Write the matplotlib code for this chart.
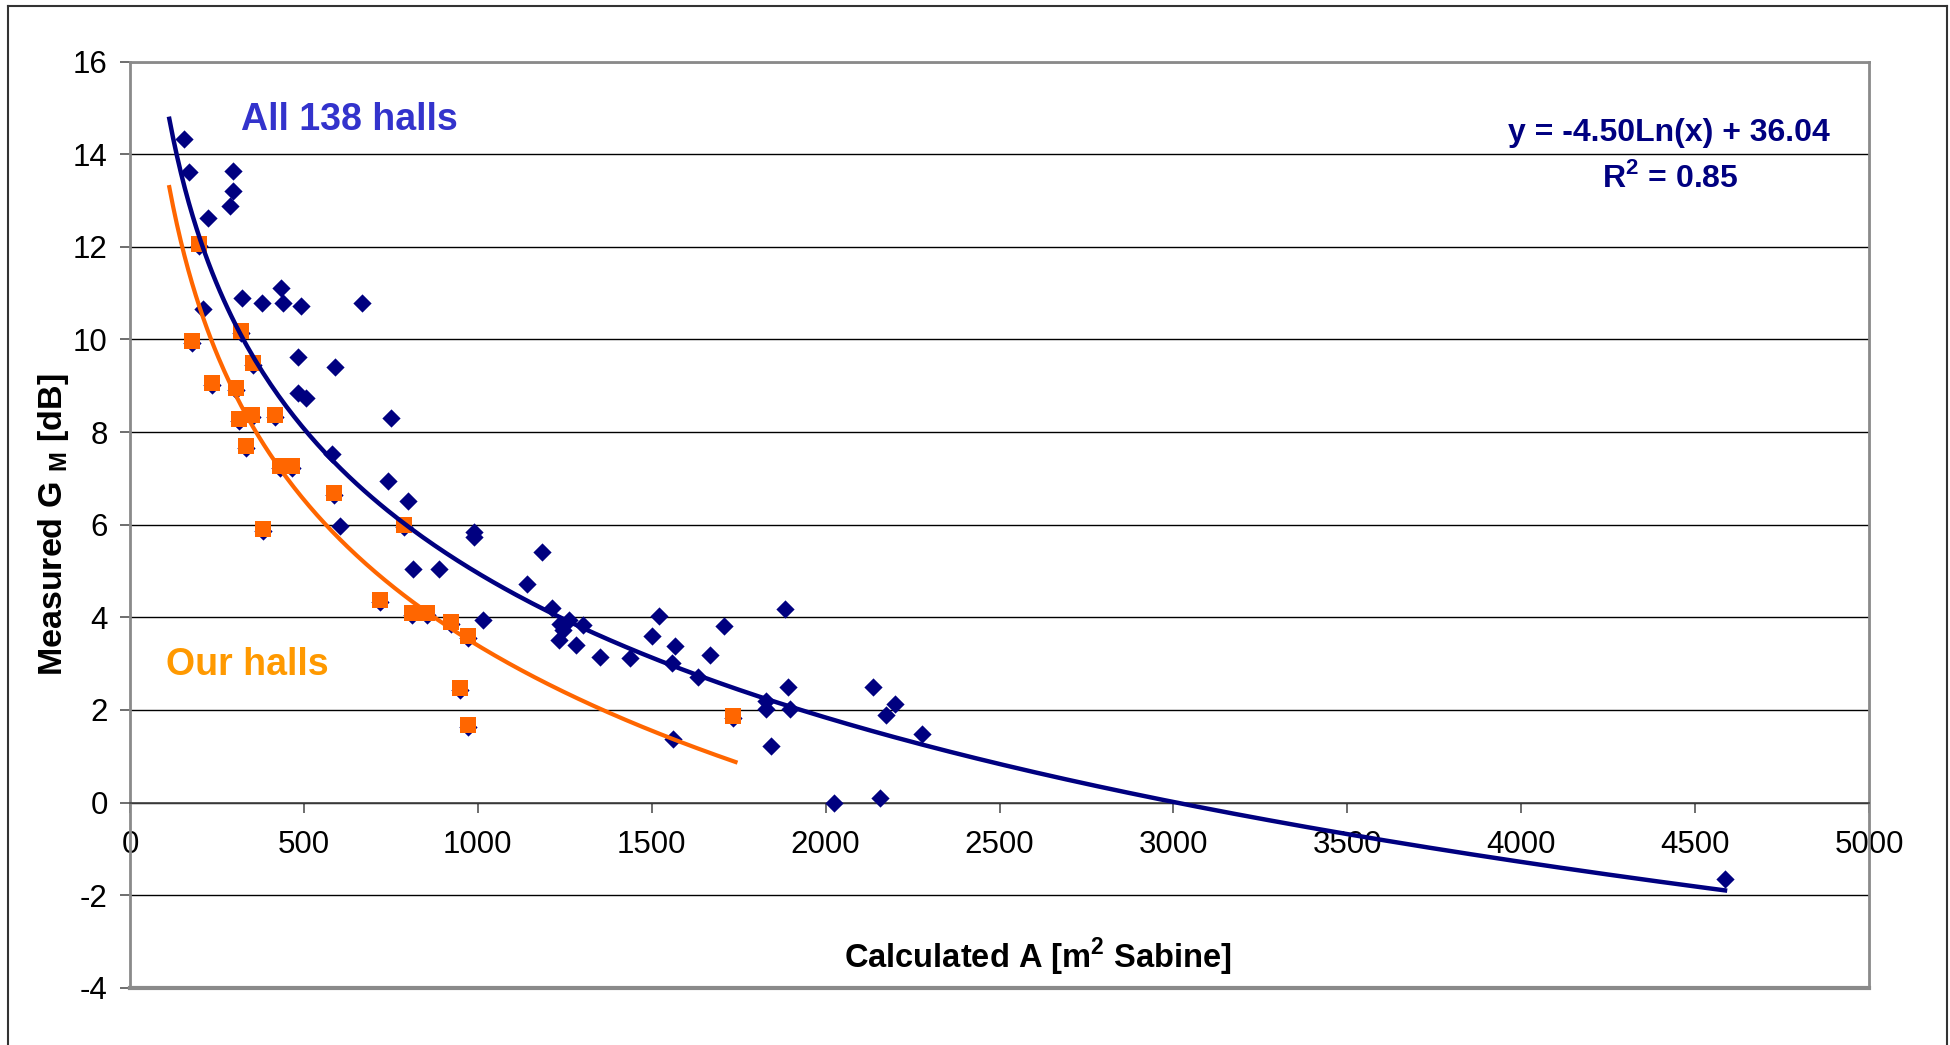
import numpy as np
import matplotlib
matplotlib.use("Agg")
import matplotlib.pyplot as plt
import matplotlib.transforms as mtransforms
from matplotlib.lines import Line2D

plt.rcParams['font.family'] = ['Liberation Sans', 'DejaVu Sans']
plt.rcParams['axes.unicode_minus'] = False

# halls from the large data set that are not ours
other_A = [155, 170, 295, 295, 288, 223, 211, 323, 379, 435, 441, 491, 666, 484, 589,
           484, 505, 750, 582, 743, 799, 604, 989, 989, 1185, 814, 889, 1142, 1213, 1016,
           1236, 1262, 1303, 1246, 1234, 1282, 1351, 1437, 1500, 1522, 1568, 1557, 1668, 1709,
           1884, 1633, 1891, 1829, 1829, 1899, 1842, 1562, 2135, 2200, 2175, 2276, 2025, 2157,
           4586]
other_G = [14.32, 13.62, 13.64, 13.21, 12.89, 12.62, 10.65, 10.90, 10.78, 11.12, 10.78, 10.73,
           10.78, 9.63, 9.41, 8.84, 8.73, 8.31, 7.52, 6.94, 6.52, 5.98, 5.84, 5.73, 5.41, 5.04,
           5.04, 4.73, 4.20, 3.94, 3.86, 3.94, 3.83, 3.73, 3.51, 3.40, 3.15, 3.13, 3.60, 4.03,
           3.38, 3.02, 3.19, 3.82, 4.19, 2.71, 2.49, 2.20, 2.01, 2.01, 1.22, 1.37, 2.49, 2.13,
           1.90, 1.48, 0.00, 0.10, -1.65]

# our halls
our_A = [199, 319, 179, 354, 236, 305, 313, 350, 418, 333, 431, 467, 586, 381, 789, 720,
         811, 853, 922, 972, 950, 972, 1733]
our_G = [12.02, 10.13, 9.92, 9.45, 9.02, 8.92, 8.24, 8.33, 8.33, 7.65, 7.23, 7.23, 6.64,
         5.86, 5.96, 4.34, 4.06, 4.06, 3.86, 3.55, 2.43, 1.64, 1.82]

# trend line given on the chart: y = -4.50 Ln(x) + 36.04
trend_a, trend_b = -4.50, 36.04
trend_start = 113

all_A = other_A + our_A
all_G = other_G + our_G

fig = plt.figure(figsize=(19.5, 10.45), dpi=100)
ax = fig.add_axes([130 / 1950, 1 - 987.7 / 1045, 1739 / 1950, 926 / 1045])

ax.scatter(all_A, all_G, marker='D', s=9.3 ** 2, color='#000080', linewidths=0, zorder=3)
# squares drawn a couple of pixels up so the lower tip of the diamond shows, like excel
lift = ax.transData + mtransforms.ScaledTranslation(0, 2 / 100, fig.dpi_scale_trans)
ax.scatter(our_A, our_G, marker='s', s=11.2 ** 2, color='#FF6600',
           linewidths=0, zorder=4, transform=lift)

xb = np.linspace(trend_start, max(all_A), 400)
ax.plot(xb, trend_a * np.log(xb) + trend_b, color='#000080', lw=3.2, zorder=5)

# orange trend line: log fit of our halls
oa, ob = np.polyfit(np.log(our_A), our_G, 1)
xo = np.linspace(trend_start, max(our_A) + 8, 300)
ax.plot(xo, oa * np.log(xo) + ob, color='#FF6600', lw=3.0, zorder=5)

ax.set_xlim(0, 5000)
ax.set_ylim(-4, 16)
ax.set_xticks(np.arange(0, 5001, 500))
ax.set_yticks(np.arange(-4, 17, 2))
ax.yaxis.grid(True, color='black', lw=1.0)
ax.set_axisbelow(True)

for s in ['top', 'right', 'left']:
    ax.spines[s].set_color('#8a8a8a')
    ax.spines[s].set_linewidth(2.0)
ax.spines['bottom'].set_position(('data', 0))
ax.spines['bottom'].set_color('#444444')
ax.spines['bottom'].set_linewidth(1.2)
ax.axhline(-4, color='#8a8a8a', lw=3.0, clip_on=False, zorder=1)

ax.tick_params(axis='y', direction='out', length=7, width=1.2, color='#555555',
               labelsize=22.5, pad=9)
ax.tick_params(axis='x', direction='out', length=7, width=1.2, color='#555555',
               labelsize=22.5, pad=13)

fig.text(54 / 1950, 1 - 525 / 1045, r'Measured G $_\mathregular{M}$ [dB]', rotation=90,
         ha='center', va='center', fontsize=24.5, fontweight='bold')
fig.text(1038 / 1950, 1 - 957 / 1045, r'Calculated A [m$^\mathregular{2}$ Sabine]',
         ha='center', va='center', fontsize=23.5, fontweight='bold')

fig.text(349 / 1950, 1 - 130 / 1045, 'All 138 halls', ha='center', va='baseline',
         fontsize=27, fontweight='bold', color='#3333CC')
fig.text(247 / 1950, 1 - 675 / 1045, 'Our halls', ha='center', va='baseline',
         fontsize=27, fontweight='bold', color='#FF9900')
fig.text(1669 / 1950, 1 - 141 / 1045, 'y = -4.50Ln(x) + 36.04', ha='center', va='baseline',
         fontsize=23, fontweight='bold', color='#000080')
fig.text(1670 / 1950, 1 - 187 / 1045, r'R$^\mathregular{2}$ = 0.85', ha='center', va='baseline',
         fontsize=23, fontweight='bold', color='#000080')

# outer chart border
for xs, ys in [([8, 8], [1045, 6]), ([8, 1947], [6, 6]), ([1947, 1947], [6, 1045])]:
    fig.add_artist(Line2D([x / 1950 for x in xs], [1 - y / 1045 for y in ys],
                          color='#333333', lw=1.5))

fig.savefig('out.png', dpi=100)
